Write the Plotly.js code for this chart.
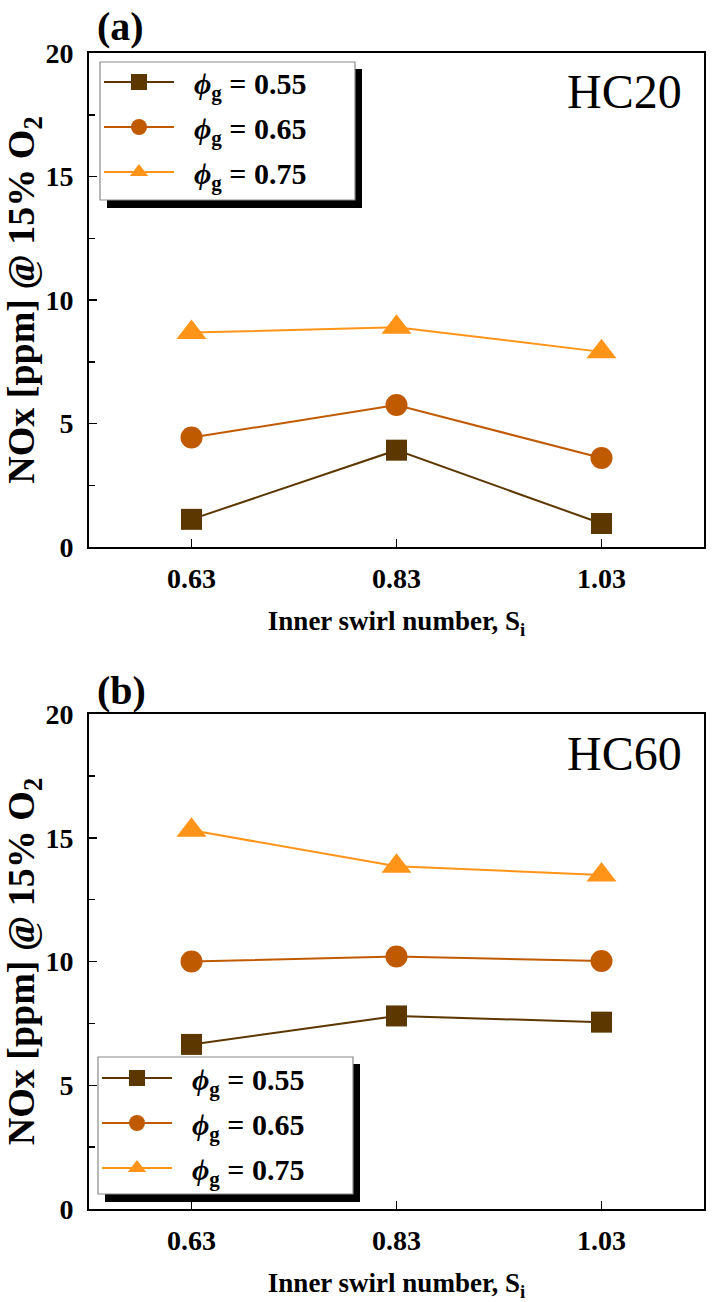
<!DOCTYPE html>
<html>
<head>
<meta charset="utf-8">
<script src="https://cdn.plot.ly/plotly-3.0.1.min.js"></script>
<style>html,body{margin:0;padding:0;background:#fff;}#chart{width:712px;height:1302px;}</style>
</head>
<body>
<div id="chart"></div>
<script>
// ---- data ----
var swirl = [0.63, 0.83, 1.03];
var swirlLabels = ['0.63', '0.83', '1.03'];
var phiLabels = ['0.55', '0.65', '0.75'];
// Panel (a) HC20
var hc20_055 = [1.12, 3.92, 0.95];
var hc20_065 = [4.43, 5.75, 3.60];
var hc20_075 = [8.68, 8.90, 7.90];
// Panel (b) HC60
var hc60_055 = [6.65, 7.80, 7.55];
var hc60_065 = [10.00, 10.20, 10.02];
var hc60_075 = [15.30, 13.85, 13.50];
var yTicks = [0, 5, 10, 15, 20];

var colors = ['#5C3800', '#C05A00', '#FF9419'];
var symbols = ['square', 'circle', 'triangle-up'];
var sizes = [21, 22, 26];
var FONT = 'Liberation Serif, Times New Roman, serif';

function mk(y, i, xa, ya, leg) {
  return {
    x: swirl, y: y, type: 'scatter', mode: 'lines+markers',
    name: '\u00A0\u00A0<i>\u03D5</i><sub>g</sub> = ' + phiLabels[i],
    legend: leg, legendgroup: leg + i,
    xaxis: xa, yaxis: ya,
    line: {color: colors[i], width: 2},
    marker: {symbol: symbols[i], size: sizes[i], color: colors[i], line: {width: 0}}
  };
}
var seriesA = [hc20_055, hc20_065, hc20_075];
var seriesB = [hc60_055, hc60_065, hc60_075];
var data = [];
seriesA.forEach(function (s, i) { data.push(mk(s, i, 'x', 'y', 'legend')); });
seriesB.forEach(function (s, i) { data.push(mk(s, i, 'x2', 'y2', 'legend2')); });

var W = 712, H = 1302;
function px(v) { return v / W; }
function py(v) { return 1 - v / H; }

var tickFont = {family: FONT, size: 28, weight: 'bold', color: '#000'};
function xax(anchor, dom) {
  return {
    domain: dom, anchor: anchor, range: [0.53, 1.13],
    tickvals: swirl, ticktext: swirlLabels,
    ticks: 'inside', ticklen: 8, tickwidth: 1.5, tickcolor: '#000',
    showline: true, linewidth: 2, linecolor: '#000', mirror: true,
    showgrid: false, zeroline: false, automargin: false,
    tickfont: tickFont, ticklabelstandoff: 5,
    title: {text: 'Inner swirl number, S<sub>i</sub>', font: {family: FONT, size: 27, weight: 'bold', color: '#000'}, standoff: 19}
  };
}
function yax(anchor, dom) {
  return {
    domain: dom, anchor: anchor, range: [0, 20],
    tickvals: yTicks, ticktext: yTicks.map(String),
    ticks: 'inside', ticklen: 8, tickwidth: 1.5, tickcolor: '#000',
    minor: {dtick: 2.5, ticks: 'inside', ticklen: 6, tickwidth: 1.5, tickcolor: '#000', showgrid: false},
    showline: true, linewidth: 2, linecolor: '#000', mirror: true,
    showgrid: false, zeroline: false, automargin: false,
    tickfont: tickFont, ticklabelstandoff: 8,
    title: {text: 'NOx [ppm] @ 15% O<sub>2</sub>', font: {family: FONT, size: 38, weight: 'bold', color: '#000'}, standoff: 8}
  };
}

var legBase = {
  xanchor: 'left', yanchor: 'top', bgcolor: 'rgba(0,0,0,0)', borderwidth: 0,
  font: {family: FONT, size: 30, weight: 'bold', color: '#000'},
  itemwidth: 70, tracegroupgap: 3, traceorder: 'grouped', itemsizing: 'trace'
};
var leg1 = Object.assign({}, legBase, {x: px(99), y: py(56)});
var leg2 = Object.assign({}, legBase, {x: px(97), y: py(1052)});

function box(x0, x1, y0, y1) {
  return [
    {type: 'rect', xref: 'paper', yref: 'paper', x0: px(x0 + 7), x1: px(x1 + 7), y0: py(y1 + 8), y1: py(y0 + 7), fillcolor: '#000', line: {width: 0}, layer: 'above'},
    {type: 'rect', xref: 'paper', yref: 'paper', x0: px(x0), x1: px(x1), y0: py(y1), y1: py(y0), fillcolor: '#fff', line: {width: 1.2, color: '#8a8a8a'}, layer: 'above'}
  ];
}

var layout = {
  width: W, height: H,
  margin: {l: 0, r: 0, t: 0, b: 0},
  paper_bgcolor: '#fff', plot_bgcolor: '#fff',
  showlegend: true,
  xaxis: xax('y', [px(89), px(704)]),
  yaxis: yax('x', [py(547), py(53)]),
  xaxis2: xax('y2', [px(89), px(704)]),
  yaxis2: yax('x2', [py(1209), py(714)]),
  legend: leg1,
  legend2: leg2,
  shapes: box(100, 355, 62, 200).concat(box(98, 353, 1057, 1194)),
  annotations: [
    {text: '(a)', xref: 'paper', yref: 'paper', x: px(95), y: py(27), xanchor: 'left', yanchor: 'middle', showarrow: false, font: {family: FONT, size: 40, weight: 'bold', color: '#000'}},
    {text: 'HC20', xref: 'paper', yref: 'paper', x: px(684), y: py(92), xanchor: 'right', yanchor: 'middle', showarrow: false, font: {family: FONT, size: 48, color: '#000'}},
    {text: '(b)', xref: 'paper', yref: 'paper', x: px(95), y: py(690), xanchor: 'left', yanchor: 'middle', showarrow: false, font: {family: FONT, size: 40, weight: 'bold', color: '#000'}},
    {text: 'HC60', xref: 'paper', yref: 'paper', x: px(684), y: py(753), xanchor: 'right', yanchor: 'middle', showarrow: false, font: {family: FONT, size: 48, color: '#000'}}
  ]
};

Plotly.newPlot('chart', data, layout, {displayModeBar: false, staticPlot: true});
</script>
</body>
</html>
